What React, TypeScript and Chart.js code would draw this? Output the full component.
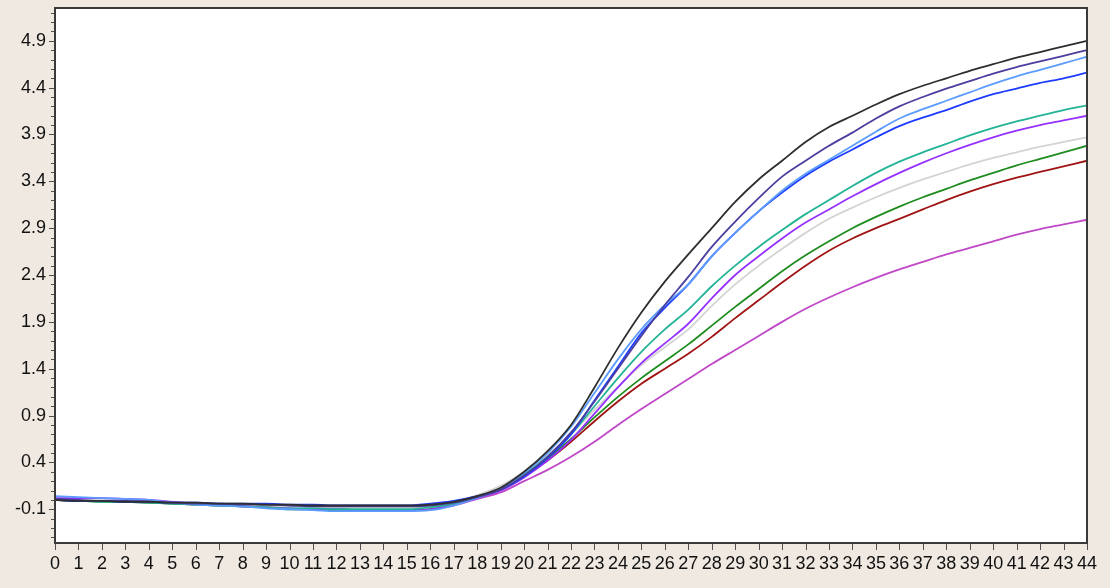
import React, { useEffect, useRef } from "react";
import { Chart, registerables } from "chart.js";

Chart.register(...registerables);

const cycles = [0,1,2,3,4,5,6,7,8,9,10,11,12,13,14,15,16,17,18,19,20,21,22,23,24,25,26,27,28,29,30,31,32,33,34,35,36,37,38,39,40,41,42,43,44];

const yTickLabels = [-0.1, 0.4, 0.9, 1.4, 1.9, 2.4, 2.9, 3.4, 3.9, 4.4, 4.9];

const sBlack = [0.00,-0.01,-0.01,-0.02,-0.02,-0.03,-0.03,-0.04,-0.04,-0.05,-0.05,-0.06,-0.06,-0.06,-0.06,-0.06,-0.05,-0.02,
  0.04,0.13,0.30,0.52,0.80,1.20,1.62,2.00,2.33,2.62,2.90,3.18,3.42,3.62,3.82,3.98,4.10,4.22,4.33,4.42,4.50,4.58,4.65,4.72,4.78,4.84,4.90];
const sSlate = [0.01,0.00,-0.01,-0.01,-0.02,-0.03,-0.04,-0.04,-0.05,-0.05,-0.06,-0.07,-0.07,-0.07,-0.07,-0.07,-0.06,-0.03,
  0.03,0.11,0.26,0.46,0.72,1.05,1.40,1.75,2.08,2.38,2.70,2.97,3.22,3.45,3.62,3.78,3.92,4.07,4.20,4.30,4.39,4.47,4.55,4.62,4.68,4.74,4.80];
const sLightBlue = [0.04,0.03,0.02,0.01,0.00,-0.03,-0.05,-0.06,-0.07,-0.09,-0.10,-0.11,-0.12,-0.12,-0.12,-0.12,-0.11,-0.06,
  0.02,0.12,0.29,0.50,0.78,1.14,1.50,1.82,2.08,2.30,2.60,2.85,3.08,3.30,3.48,3.63,3.78,3.93,4.07,4.17,4.26,4.35,4.44,4.52,4.59,4.66,4.73];
const sBlue = [0.00,-0.01,-0.01,-0.02,-0.02,-0.03,-0.03,-0.04,-0.04,-0.04,-0.05,-0.05,-0.06,-0.06,-0.06,-0.06,-0.04,-0.01,
  0.04,0.11,0.25,0.45,0.70,1.06,1.42,1.78,2.05,2.30,2.60,2.85,3.08,3.28,3.46,3.61,3.74,3.87,3.99,4.08,4.16,4.25,4.33,4.39,4.45,4.50,4.56];
const sTeal = [0.00,-0.01,-0.02,-0.02,-0.03,-0.04,-0.05,-0.06,-0.07,-0.08,-0.09,-0.09,-0.10,-0.10,-0.10,-0.10,-0.08,-0.04,
  0.03,0.12,0.27,0.46,0.70,1.00,1.30,1.58,1.82,2.03,2.28,2.50,2.70,2.88,3.05,3.20,3.35,3.49,3.61,3.71,3.80,3.89,3.97,4.04,4.10,4.16,4.21];
const sPurple = [0.02,0.02,0.02,0.01,0.00,-0.02,-0.04,-0.05,-0.07,-0.08,-0.09,-0.10,-0.10,-0.11,-0.11,-0.11,-0.10,-0.05,
  0.02,0.10,0.24,0.42,0.64,0.92,1.20,1.46,1.67,1.88,2.15,2.40,2.60,2.79,2.96,3.10,3.24,3.37,3.49,3.60,3.70,3.79,3.87,3.94,4.00,4.05,4.10];
const sGray = [0.01,0.00,0.00,-0.01,-0.01,-0.02,-0.03,-0.04,-0.05,-0.06,-0.07,-0.08,-0.08,-0.08,-0.08,-0.08,-0.07,-0.03,
  0.05,0.15,0.30,0.48,0.70,0.96,1.21,1.44,1.63,1.82,2.07,2.30,2.50,2.68,2.85,3.00,3.12,3.23,3.33,3.42,3.50,3.58,3.65,3.71,3.77,3.82,3.87];
const sGreen = [0.00,-0.01,-0.02,-0.02,-0.03,-0.04,-0.05,-0.06,-0.07,-0.08,-0.10,-0.10,-0.11,-0.11,-0.11,-0.11,-0.10,-0.05,
  0.03,0.12,0.26,0.44,0.65,0.88,1.10,1.30,1.48,1.66,1.86,2.06,2.25,2.44,2.61,2.76,2.90,3.02,3.13,3.23,3.32,3.41,3.49,3.57,3.64,3.71,3.78];
const sDarkRed = [0.00,-0.01,-0.01,-0.02,-0.02,-0.03,-0.04,-0.05,-0.05,-0.06,-0.06,-0.07,-0.07,-0.07,-0.07,-0.07,-0.06,-0.03,
  0.03,0.11,0.25,0.42,0.62,0.84,1.05,1.24,1.40,1.56,1.74,1.94,2.13,2.32,2.50,2.66,2.79,2.90,3.00,3.10,3.20,3.29,3.37,3.44,3.50,3.56,3.62];
const sOrchid = [0.01,0.00,-0.01,-0.02,-0.03,-0.04,-0.05,-0.06,-0.07,-0.08,-0.09,-0.10,-0.10,-0.11,-0.11,-0.11,-0.10,-0.06,
  0.01,0.08,0.20,0.32,0.46,0.62,0.80,0.97,1.13,1.29,1.45,1.60,1.75,1.90,2.04,2.16,2.27,2.37,2.46,2.54,2.62,2.69,2.76,2.83,2.89,2.94,2.99];

const seriesList = [
  { name: "S1", values: sBlack, color: "#2e2e2e" },
  { name: "S2", values: sSlate, color: "#4a3f9f" },
  { name: "S3", values: sLightBlue, color: "#5c9cff" },
  { name: "S4", values: sBlue, color: "#1e3cff" },
  { name: "S5", values: sTeal, color: "#22b495" },
  { name: "S6", values: sPurple, color: "#9632ff" },
  { name: "S7", values: sGray, color: "#d4d4d4" },
  { name: "S8", values: sGreen, color: "#1e8c1e" },
  { name: "S9", values: sDarkRed, color: "#a01414" },
  { name: "S10", values: sOrchid, color: "#c048c8" },
];

const FONT = "'Liberation Sans', Arial, sans-serif";

const framePlugin = {
  id: "frame",
  beforeDraw(chart: any) {
    const { ctx, chartArea: a } = chart;
    ctx.save();
    ctx.fillStyle = "#ffffff";
    ctx.fillRect(a.left, a.top, a.right - a.left, a.bottom - a.top);
    ctx.restore();
  },
  afterDraw(chart: any) {
    const { ctx, chartArea: a } = chart;
    const ys = chart.scales.y;
    const xs = chart.scales.x;
    ctx.save();
    ctx.strokeStyle = "#505050";
    ctx.lineWidth = 1;
    for (let i = -4; i <= 52; i++) {
      const v = i / 10;
      const py = Math.round(ys.getPixelForValue(v)) + 0.5;
      if (py < a.top || py > a.bottom) continue;
      const major = yTickLabels.some((t) => Math.abs(t - v) < 1e-6);
      const len = major ? 6 : 4;
      ctx.beginPath();
      ctx.moveTo(a.left - len, py);
      ctx.lineTo(a.left, py);
      ctx.stroke();
    }
    for (const c of cycles) {
      const px = Math.round(xs.getPixelForValue(c)) + 0.5;
      ctx.beginPath();
      ctx.moveTo(px, a.bottom);
      ctx.lineTo(px, a.bottom + 7);
      ctx.stroke();
    }
    ctx.strokeStyle = "#3a3a3a";
    ctx.lineWidth = 2;
    ctx.strokeRect(a.left, a.top, a.right - a.left, a.bottom - a.top);
    ctx.restore();
  },
};

export default function App() {
  const canvasRef = useRef<HTMLCanvasElement | null>(null);

  useEffect(() => {
    const canvas = canvasRef.current;
    if (!canvas) return;
    const chart = new Chart(canvas, {
      type: "line",
      data: {
        datasets: seriesList.map((s) => ({
          label: s.name,
          data: cycles.map((c, i) => ({ x: c, y: s.values[i] })),
          borderColor: s.color,
          backgroundColor: s.color,
          borderWidth: 1.8,
          pointRadius: 0,
          cubicInterpolationMode: "monotone" as const,
          fill: false,
        })),
      },
      options: {
        responsive: false,
        animation: false,
        devicePixelRatio: 1,
        layout: { padding: { top: 8, right: 23, left: 0, bottom: 0 } },
        plugins: { legend: { display: false }, tooltip: { enabled: false } },
        scales: {
          x: {
            type: "linear",
            min: 0,
            max: 44,
            grid: { display: false, drawTicks: false },
            border: { display: false },
            afterBuildTicks: (scale: any) => {
              scale.ticks = cycles.map((c) => ({ value: c }));
            },
            afterFit: (scale: any) => {
              scale.height = 45;
              scale.paddingLeft = 0;
              scale.paddingRight = 0;
            },
            ticks: {
              autoSkip: false,
              maxRotation: 0,
              minRotation: 0,
              padding: 10,
              color: "#111111",
              font: { family: FONT, size: 18 },
              callback: (v: any) => String(v),
            },
          },
          y: {
            type: "linear",
            min: -0.46,
            max: 5.25,
            grid: { display: false, drawTicks: false },
            border: { display: false },
            afterBuildTicks: (scale: any) => {
              scale.ticks = yTickLabels.map((v) => ({ value: v }));
            },
            afterFit: (scale: any) => {
              scale.width = 55;
              scale.paddingTop = 0;
              scale.paddingBottom = 0;
            },
            ticks: {
              autoSkip: false,
              padding: 9,
              color: "#111111",
              font: { family: FONT, size: 18 },
              callback: (v: any) => Number(v).toFixed(1),
            },
          },
        },
      },
      plugins: [framePlugin],
    });
    return () => chart.destroy();
  }, []);

  return (
    <div
      style={{
        position: "fixed",
        left: 0,
        top: 0,
        width: 1110,
        height: 588,
        background: "#efe9e1",
      }}
    >
      <canvas ref={canvasRef} width={1110} height={588} style={{ display: "block" }} />
    </div>
  );
}
